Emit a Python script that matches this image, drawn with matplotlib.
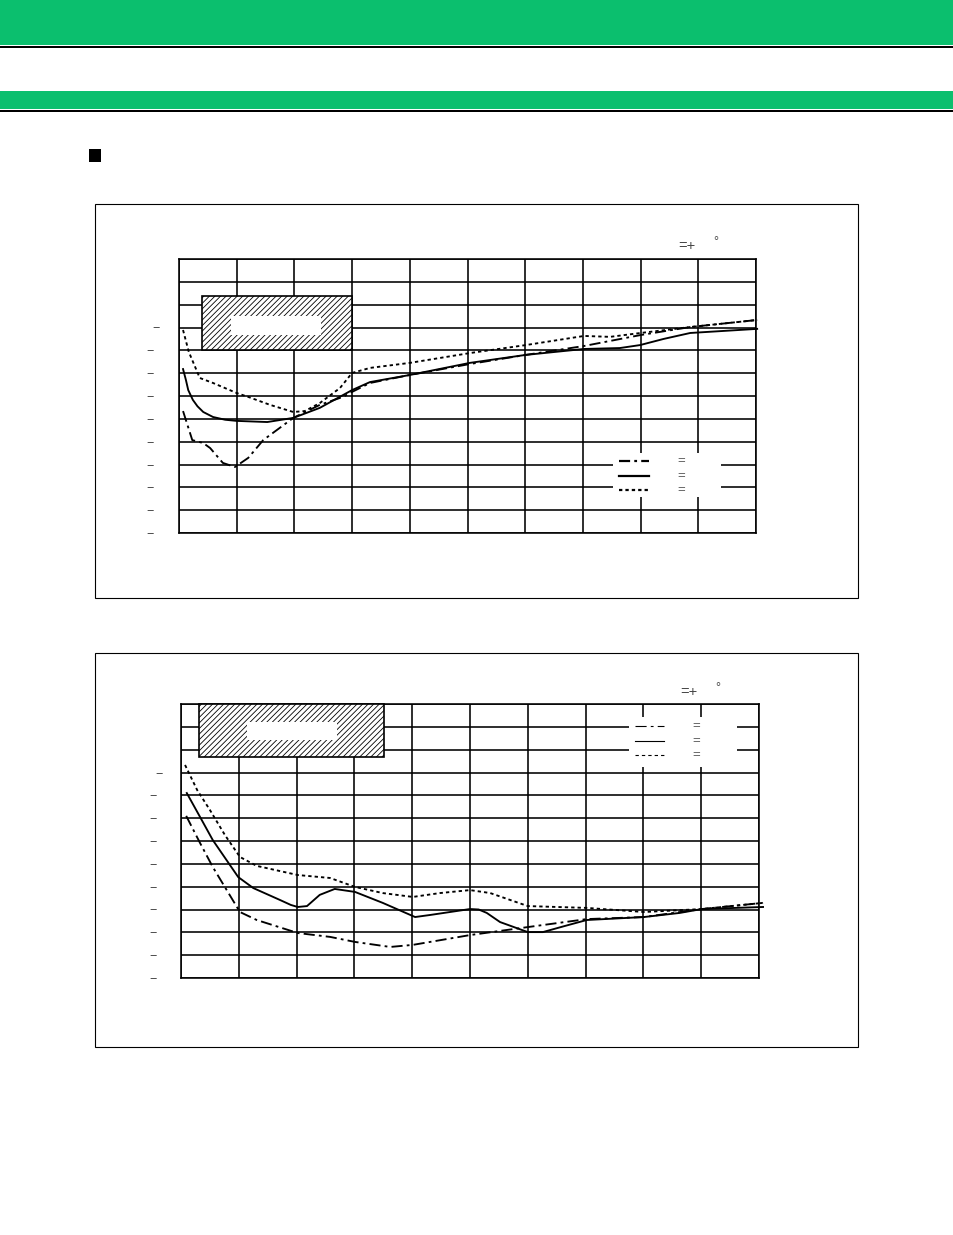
"""
Datasheet page with two characteristic curve charts.
"""

import matplotlib.pyplot as plt
import matplotlib.transforms as mtransforms
from matplotlib.patches import Rectangle

plt.rcParams["font.family"] = ["Liberation Sans", "DejaVu Sans"]
plt.rcParams["lines.scale_dashes"] = False
plt.rcParams["hatch.linewidth"] = 0.6
plt.rcParams["hatch.color"] = "#202020"

W, H = 954, 1235
GREEN = "#0bbf6e"

# ---- data (grid units: x = column, y = row) ----
top_dashdot_x = [0.07, 0.23, 0.42, 0.54, 0.76, 0.97, 1.20, 1.46, 1.98, 2.44, 2.84, 3.00, 3.31,
                 4.00, 5.04, 6.01, 7.02, 8.00, 8.86, 10.02]
top_dashdot_y = [5.34, 4.07, 3.94, 3.72, 3.07, 2.89, 3.29, 4.07, 5.04, 5.61, 5.96, 6.18, 6.57,
                 6.92, 7.40, 7.80, 8.19, 8.67, 9.02, 9.33]
top_solid_x = [0.07, 0.12, 0.16, 0.24, 0.32, 0.42, 0.59, 0.80, 1.00, 1.53, 1.98, 2.44, 3.00,
               3.31, 4.00, 5.04, 6.01, 7.02, 7.64, 7.99, 8.40, 8.86, 10.02]
top_solid_y = [7.18, 6.70, 6.26, 5.83, 5.55, 5.30, 5.08, 4.96, 4.91, 4.86, 5.04, 5.48, 6.26,
               6.61, 6.92, 7.45, 7.80, 8.06, 8.10, 8.23, 8.50, 8.76, 8.94]
top_dotted_x = [0.07, 0.17, 0.36, 0.59, 1.00, 1.20, 1.58, 1.98, 2.18, 2.44, 2.79, 3.00, 3.31,
                4.00, 5.04, 6.01, 7.02, 7.47, 8.00, 8.86, 10.02]
top_dotted_y = [8.89, 7.93, 6.79, 6.57, 6.13, 5.96, 5.61, 5.30, 5.34, 5.69, 6.35, 7.01, 7.23,
                7.45, 7.88, 8.23, 8.63, 8.59, 8.76, 9.02, 9.33]

bot_dashdot_x = [0.09, 0.33, 0.55, 1.02, 1.31, 2.02, 2.58, 3.01, 3.62, 4.01, 5.00, 6.00, 7.02,
                 8.01, 9.01, 10.07]
bot_dashdot_y = [7.10, 5.91, 4.86, 2.89, 2.54, 1.97, 1.80, 1.58, 1.36, 1.45, 1.88, 2.23, 2.58,
                 2.67, 3.02, 3.29]
bot_solid_x = [0.10, 0.33, 0.55, 0.99, 1.25, 1.71, 1.90, 2.02, 2.18, 2.40, 2.66, 3.01, 3.49,
               4.05, 4.31, 5.00, 5.15, 5.29, 5.52, 6.00, 6.26, 6.60, 7.02, 8.01, 8.63, 9.01,
               10.07]
bot_solid_y = [8.10, 7.05, 6.04, 4.42, 3.94, 3.42, 3.20, 3.11, 3.15, 3.64, 3.90, 3.77, 3.29,
               2.67, 2.76, 3.02, 3.00, 2.85, 2.45, 2.01, 2.01, 2.25, 2.54, 2.67, 2.85, 3.02,
               3.11]
bot_dotted_x = [0.07, 0.28, 0.50, 0.76, 1.02, 1.31, 2.02, 2.58, 3.01, 3.49, 4.01, 4.48, 5.00,
                5.35, 6.00, 7.02, 8.01, 9.01, 10.07]
bot_dotted_y = [9.33, 8.23, 7.36, 6.26, 5.30, 4.91, 4.51, 4.38, 3.99, 3.72, 3.55, 3.72, 3.85,
                3.72, 3.15, 3.07, 2.89, 3.02, 3.29]

y_minus_rows = list(range(10))

DASHDOT = (0, (8, 3, 2, 3))
DOTTED = (0, (2.4, 2.2))


def fx(px):
    return px / W


def fy(py):
    return 1 - py / H


def page_rect(fig, x0, y0, x1, y1, **kw):
    fig.patches.append(Rectangle((fx(x0), fy(y1)), fx(x1) - fx(x0), fy(y0) - fy(y1),
                                 transform=fig.transFigure, **kw))


def make_axes(fig, left, top, right, bottom):
    ax = fig.add_axes([fx(left), fy(bottom), (right - left) / W, (bottom - top) / H])
    ax.set_xlim(0, 10)
    ax.set_ylim(0, 12)
    ax.set_xticks(range(11))
    ax.set_yticks(range(13))
    ax.set_xticklabels([])
    ax.set_yticklabels([])
    ax.tick_params(length=0)
    ax.set_axisbelow(True)
    ax.grid(True, color="black", linewidth=1.15)
    for s in ax.spines.values():
        s.set_linewidth(1.15)
    return ax


def draw_chart(fig, ax, series, box, inner, key_box, key_x, key_rows, key_eq_x, key_lw,
               minus_x, minus_x_first, temp_xy):
    for xs, ys, ls in series:
        ax.plot(xs, ys, color="black", linewidth=1.35, linestyle=ls, clip_on=False, zorder=3)

    # hatched condition box
    ax.add_patch(Rectangle((box[0], box[1]), box[2] - box[0], box[3] - box[1],
                           facecolor="white", edgecolor="black", hatch="//////",
                           linewidth=1.2, zorder=4, clip_on=False))
    ax.add_patch(Rectangle((inner[0], inner[1]), inner[2] - inner[0], inner[3] - inner[1],
                           facecolor="white", edgecolor="none", zorder=5))

    # key
    ax.add_patch(Rectangle((key_box[0], key_box[1]), key_box[2] - key_box[0],
                           key_box[3] - key_box[1], facecolor="white", edgecolor="none",
                           zorder=2))
    for (_, _, ls), yk in zip(series, key_rows):
        ax.plot(key_x, [yk, yk], color="black", linewidth=key_lw, linestyle=ls, zorder=3)
        ax.text(key_eq_x, yk, "=", fontsize=9.5, color="#555555", ha="left", va="center")

    # axis labels (only the minus signs survived)
    trans = mtransforms.blended_transform_factory(fig.transFigure, ax.transData)
    trans = mtransforms.offset_copy(trans, fig=fig, y=-2, units="dots")
    for r in y_minus_rows:
        xpos = minus_x_first if r == max(y_minus_rows) else minus_x
        ax.text(fx(xpos), r, "\u2212", transform=trans, fontsize=9, color="#444444",
                ha="center", va="center")

    fig.text(fx(temp_xy[0]), fy(temp_xy[1]), "=+", fontsize=10.5, color="#444444",
             ha="left", va="center")
    fig.text(fx(temp_xy[0] + 35), fy(temp_xy[1] - 4), "\u00b0", fontsize=9,
             color="#444444", ha="left", va="center")


fig = plt.figure(figsize=(W / 100, H / 100), dpi=100)

# header bands
page_rect(fig, 0, 0, W, 44.5, facecolor=GREEN, edgecolor="none")
page_rect(fig, 0, 46, W, 47.5, facecolor="black", edgecolor="none")
page_rect(fig, 0, 91, W, 108.5, facecolor=GREEN, edgecolor="none")
page_rect(fig, 0, 110, W, 111.5, facecolor="black", edgecolor="none")

# section bullet
page_rect(fig, 89, 149, 101.5, 162, facecolor="black", edgecolor="none")

# chart frames
page_rect(fig, 95.5, 203.5, 858.5, 597.5, facecolor="none", edgecolor="black", linewidth=0.8)
page_rect(fig, 95.5, 652.5, 858.5, 1046.5, facecolor="none", edgecolor="black", linewidth=0.8)

ax1 = make_axes(fig, 179, 259, 756, 533)
draw_chart(fig, ax1,
           [(top_dashdot_x, top_dashdot_y, DASHDOT),
            (top_solid_x, top_solid_y, "-"),
            (top_dotted_x, top_dotted_y, DOTTED)],
           box=(0.40, 8.0, 2.99, 10.38), inner=(0.90, 8.67, 2.46, 9.5),
           key_box=(7.52, 1.58, 9.39, 3.50), key_x=[7.62, 8.15],
           key_rows=[3.15, 2.50, 1.88], key_eq_x=8.63, key_lw=1.6,
           minus_x=150, minus_x_first=156, temp_xy=(678, 246))

ax2 = make_axes(fig, 181, 704, 759, 978)
draw_chart(fig, ax2,
           [(bot_dashdot_x, bot_dashdot_y, DASHDOT),
            (bot_solid_x, bot_solid_y, "-"),
            (bot_dotted_x, bot_dotted_y, DOTTED)],
           box=(0.31, 9.68, 3.51, 12.0), inner=(1.14, 10.42, 2.70, 11.21),
           key_box=(7.75, 9.24, 9.62, 11.43), key_x=[7.85, 8.36],
           key_rows=[11.04, 10.38, 9.77], key_eq_x=8.84, key_lw=0.8,
           minus_x=152.5, minus_x_first=159.5, temp_xy=(680, 692))

fig.savefig("out.png", dpi=100)
